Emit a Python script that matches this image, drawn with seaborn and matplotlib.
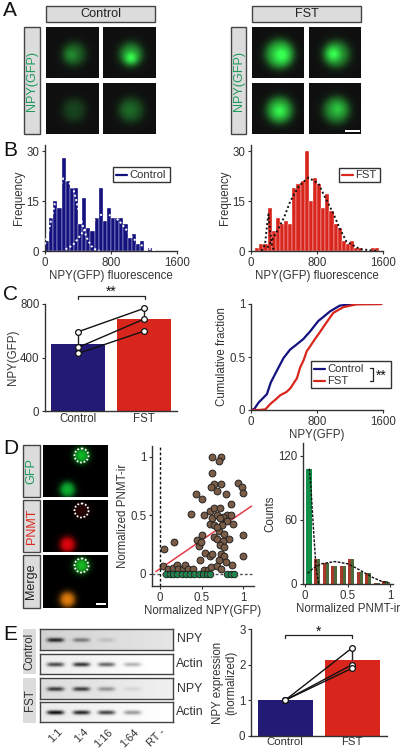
import numpy as np
import pandas as pd
import matplotlib
matplotlib.use('Agg')
import matplotlib.pyplot as plt
from matplotlib.patches import Rectangle, Circle
import seaborn as sns

sns.set_theme(style='ticks')
plt.rcParams['font.family'] = ['Liberation Sans', 'DejaVu Sans']
plt.rcParams['text.color'] = '#333333'
plt.rcParams['axes.labelcolor'] = '#333333'
plt.rcParams['xtick.labelcolor'] = '#333333'
plt.rcParams['ytick.labelcolor'] = '#333333'

NAVY = '#14127e'
BAR_BLUE = '#231a76'
RED = '#d9261c'
GREEN = '#12904a'
BROWN = '#7b5c47'
FS = 8.3

# panel B histograms, bin width 50
bin_edges = list(range(0, 1650, 50))
ctrl_freq = [3, 10, 15, 13, 28, 21, 19, 19, 8, 16, 7, 6, 10, 19, 9, 13, 10, 10, 10, 8,
             4, 5, 2, 3, 0, 1, 0, 0, 0, 0, 0, 0]
fst_freq = [0, 1, 2, 2, 13, 6, 10, 8, 9, 8, 19, 20, 21, 30, 15, 22, 20, 13, 17, 12,
            8, 7, 3, 2, 3, 1, 1, 0, 0, 1, 1, 0]
ctrl_fit1_x = [0, 60, 120, 170, 221, 270, 310, 350, 422, 470, 510, 560, 610, 660]
ctrl_fit1_y = [2, 7.8, 14.3, 18.5, 21.8, 21, 20, 18, 10.8, 6.5, 3.8, 1.5, 0.5, 0.1]
ctrl_fit2_x = [250, 340, 462, 550, 663, 750, 850, 925, 1065, 1165, 1250, 1350]
ctrl_fit2_y = [0.5, 1.8, 5.8, 8, 10.8, 11, 10.2, 8.3, 3.8, 1.8, 0.7, 0.1]
fst_fit1_x = [130, 170, 200, 212, 230, 260, 290]
fst_fit1_y = [0, 2, 9, 11, 6, 1, 0]
fst_fit2_x = [200, 313, 400, 474, 580, 695, 816, 900, 997, 1080, 1158, 1318, 1520]
fst_fit2_y = [1, 5.8, 10, 14.8, 19.5, 22, 20.3, 16, 11.3, 6.5, 2.8, 0.6, 0]

# panel C
groups = ['Control', 'FST']
npy_means = [500, 685]
npy_ctrl_cells = [592, 475, 430]
npy_fst_cells = [767, 687, 597]
cdf_ctrl_x = [0, 40, 92, 130, 193, 240, 293, 340, 394, 474, 540, 635, 680, 715, 816, 880, 957, 1077, 1238, 1580]
cdf_ctrl_y = [0, 0.01, 0.07, 0.1, 0.15, 0.26, 0.34, 0.41, 0.49, 0.57, 0.61, 0.67, 0.71, 0.74, 0.84, 0.88, 0.93, 0.985, 1, 1]
cdf_fst_x = [0, 100, 174, 234, 300, 356, 430, 477, 557, 595, 638, 676, 699, 776, 840, 897, 997, 1118, 1279, 1580]
cdf_fst_y = [0, 0, 0.006, 0.057, 0.1, 0.14, 0.17, 0.205, 0.3, 0.4, 0.47, 0.556, 0.58, 0.67, 0.74, 0.806, 0.916, 0.97, 0.997, 1]

# panel D scatter, cells positive for PNMT
pos_x = [.05, .04, .17, .10, .16, .21, .22, .28, .30, .34, .40, .37, .43, .50, .53, .44, .47, .51, .49, .48,
         .54, .60, .63, .53, .58, .61, .60, .65, .72, .60, .63, .68, .75, .81, .85, .65, .71, .77, .83, .69,
         .76, .72, .77, .73, .77, .71, .79, .69, .73, .87, .62, .73, .71, .62, .65, .73, .61, .68, .79, .85,
         .94, .98, 1.0, 1.0, 1.0, .76, .81, .88, .72, .65, .75, .68]
pos_y = [.21, .07, .27, .04, .05, .08, .04, .04, .08, .04, .04, .51, .68, .64, .50, .29, .24, .33, .27, .12,
         .18, .15, .17, .03, .03, .06, .54, .56, .56, .43, .48, .50, .48, .50, .50, .32, .37, .34, .30, .30,
         .28, .25, .23, .17, .15, .12, .10, .07, .04, .08, 1.0, 1.0, .97, .86, .77, .77, .74, .71, .68, .60,
         .78, .74, .69, .33, .15, .49, .45, .43, .48, .42, .42, .40]
neg_x = [.07, .12, .16, .21, .26, .31, .36, .41, .47, .52, .57, .6, .8, .85, .89]
neg_y = [0] * len(neg_x)
trend_x = [-0.05, 1.10]
trend_y = [0.02, 0.58]

# panel D counts
first_bin = [0.045]
first_count = [108]
count_bins = [.145, .245, .345, .445, .545, .645, .745, .845, .945]
pnmt_counts = [23, 20, 17, 17, 23, 11, 10, 1, 3]
drop_x = [.05, .07, .1, .13, .16]
drop_y = [108, 90, 50, 15, 0]
broad_x = [.03, .1, .2, .35, .5, .6, .7, .8, .9, 1.0]
broad_y = [10, 15, 19, 21, 19, 15, 10.5, 6, 2.5, .7]

# panel E
expr_means = [1, 2.12]
expr_ctrl_cells = [1, 1, 1]
expr_fst_cells = [2.47, 2.0, 1.9]
dilutions = ['1:1', '1:4', '1:16', '1:64', 'RT -']
gel_ctrl_npy = [.75, .4, .12, 0, 0]
gel_ctrl_actin = [.7, .8, .6, .3, 0]
gel_fst_npy = [.7, .7, .35, .08, 0]
gel_fst_actin = [.95, .85, .75, .4, 0]

# panels A and D cell pictures: radius, body level, spot level, spot dx, spot dy
cells_ctrl = [(11, .33, .18, -3, 1), (11, .5, .5, 0, 4), (11, .2, .02, 0, 0), (12, .28, .1, -2, 0)]
cells_fst = [(14, .6, .45, 2, 1), (13, .45, .55, -3, 0), (13, .55, .4, 0, 1), (13, .45, .3, 1, -1)]


def px_axes(fig, x0, y0, x1, y1):
    return fig.add_axes([x0 / 400, 1 - y1 / 748, (x1 - x0) / 400, (y1 - y0) / 748])


def style(ax):
    sns.despine(ax=ax)
    ax.tick_params(labelsize=FS, length=2.5, width=0.8, pad=1.5, color='#333333')
    for s in ax.spines.values():
        s.set_linewidth(1.0)
        s.set_color('#333333')


def blob(w, h, cx, cy, r, level, spot=0, dx=0, dy=0, soft=2.4):
    yy, xx = np.mgrid[0:h, 0:w]
    d = np.hypot(xx - cx, yy - cy)
    body = level / (1 + np.exp((d - r) / soft))
    body = body + spot * np.exp(-((xx - cx - dx) ** 2 + (yy - cy - dy) ** 2) / (2 * (r * .42) ** 2))
    return np.clip(body, 0, 1)


def cell_panel(fig, box, cell):
    ax = px_axes(fig, *box)
    w, h = box[2] - box[0], box[3] - box[1]
    g = blob(w, h, w / 2 + 1, h / 2 + 1, cell[0], cell[1], cell[2], cell[3], cell[4])
    img = np.dstack([g * .15 + .06, g * .95 + .06, g * .25 + .06])
    ax.imshow(np.clip(img, 0, 1), aspect='auto')
    ax.axis('off')
    return ax


def hist_panel(fig, box, freq, color):
    ax = px_axes(fig, *box)
    centers = [e + 25 for e in bin_edges[:-1]]
    sns.histplot(x=centers, weights=freq, bins=bin_edges, color=color, edgecolor='white',
                 linewidth=0.25, alpha=1, ax=ax)
    ax.set(xlim=(0, 1600), ylim=(0, 31.8), xticks=[0, 800, 1600], yticks=[0, 15, 30])
    ax.set_xlabel('NPY(GFP) fluorescence', fontsize=FS, labelpad=1)
    ax.set_ylabel('Frequency', fontsize=FS, labelpad=1)
    style(ax)
    return ax


def paired_bars(fig, box, means, left, right, ylim, yticks, ylabel, xlim, errs):
    ax = px_axes(fig, *box)
    sns.barplot(x=groups, y=means, hue=groups, palette=[BAR_BLUE, RED], width=.82, saturation=1,
                legend=False, errorbar=None, linewidth=0, ax=ax)
    ax.vlines([0, 1], means, errs, color='#222222', lw=1, zorder=3)
    for a, b in zip(left, right):
        sns.lineplot(x=[0, 1], y=[a, b], color='#111111', lw=1, ax=ax, legend=False, zorder=4)
    sns.scatterplot(x=[0] * len(left) + [1] * len(right), y=left + right, color='white',
                    edgecolor='#111111', linewidth=.9, s=17, ax=ax, zorder=5, legend=False, clip_on=False)
    ax.set(xlim=xlim, ylim=ylim, yticks=yticks)
    ax.set_ylabel(ylabel, fontsize=FS, labelpad=1)
    ax.set_xlabel('')
    style(ax)
    ax.tick_params(axis='x', length=0, pad=1.5)
    return ax


fig = plt.figure(figsize=(4, 7.48), dpi=100)
page = fig.add_axes([0, 0, 1, 1])
page.set(xlim=(0, 400), ylim=(748, 0))
page.axis('off')


def letter(x, y, s):
    page.text(x, y, s, fontsize=15, color='#111111', va='center', ha='left')


def label_box(x0, y0, x1, y1, text, color='#222222', rot=0, edge='#444444'):
    page.add_patch(Rectangle((x0, y0), x1 - x0, y1 - y0, fc='#dcdcdc', ec=edge, lw=1))
    page.text((x0 + x1) / 2, (y0 + y1) / 2, text, fontsize=FS + .8, color=color, rotation=rot,
              ha='center', va='center')


# A
letter(3, 10, 'A')
label_box(46, 6, 155, 22, 'Control')
label_box(252, 6, 361, 22, 'FST')
label_box(24, 27, 40, 134, 'NPY(GFP)', color='#1f9a5c', rot=90)
label_box(231, 27, 246, 134, 'NPY(GFP)', color='#1f9a5c', rot=90)
a_rows = [(27, 78), (83, 134)]
for col_x, cells in [((46, 99, 103, 156), cells_ctrl), ((252, 304, 309, 361), cells_fst)]:
    cell_panel(fig, (col_x[0], a_rows[0][0], col_x[1], a_rows[0][1]), cells[0])
    cell_panel(fig, (col_x[2], a_rows[0][0], col_x[3], a_rows[0][1]), cells[1])
    cell_panel(fig, (col_x[0], a_rows[1][0], col_x[1], a_rows[1][1]), cells[2])
    last = cell_panel(fig, (col_x[2], a_rows[1][0], col_x[3], a_rows[1][1]), cells[3])
last.add_patch(Rectangle((35, 46), 15, 2, fc='white', ec='none'))

# B
letter(3, 150, 'B')
ax = hist_panel(fig, (45, 145, 177, 251), ctrl_freq, NAVY)
for xs, ys in [(ctrl_fit1_x, ctrl_fit1_y), (ctrl_fit2_x, ctrl_fit2_y)]:
    sns.lineplot(x=xs, y=ys, color='white', lw=1.4, ls=(0, (1, 1.3)), ax=ax, legend=False, zorder=4)
ax = hist_panel(fig, (251, 145, 383, 251), fst_freq, RED)
for xs, ys in [(fst_fit1_x, fst_fit1_y), (fst_fit2_x, fst_fit2_y)]:
    sns.lineplot(x=xs, y=ys, color='#111111', lw=1.4, ls=(0, (1, 1.3)), ax=ax, legend=False, zorder=4)

# C
letter(3, 294, 'C')
ax = paired_bars(fig, (45, 304, 177, 411), npy_means, npy_ctrl_cells, npy_fst_cells, (0, 800),
                 [0, 400, 800], 'NPY(GFP)', (-.5, 1.5), [600, 770])

ax = px_axes(fig, 251, 304, 383, 410)
sns.lineplot(x=cdf_ctrl_x, y=cdf_ctrl_y, color=NAVY, lw=1.6, ax=ax, legend=False)
sns.lineplot(x=cdf_fst_x, y=cdf_fst_y, color=RED, lw=1.6, ax=ax, legend=False)
ax.set(xlim=(0, 1600), ylim=(0, 1), xticks=[0, 800, 1600], yticks=[0, .5, 1], yticklabels=['0', '0.5', '1'])
ax.set_xlabel('NPY(GFP)', fontsize=FS, labelpad=1)
ax.set_ylabel('Cumulative fraction', fontsize=FS, labelpad=1)
style(ax)

# D
letter(3, 448, 'D')
label_box(23, 445, 40, 497, 'GFP', color='#1f9a5c', rot=90)
label_box(23, 500, 40, 552, 'PNMT', color='#d9261c', rot=90)
label_box(23, 555, 40, 608, 'Merge', color='#222222', rot=90)

d_top = (43, 445, 108, 497)
d_mid = (43, 500, 108, 552)
d_low = (43, 555, 108, 608)


def d_panel(box, rgb_a, rgb_b, ring=True, bar=False):
    ax = px_axes(fig, *box)
    w, h = box[2] - box[0], box[3] - box[1]
    a = blob(w, h, 38, 10, 7, 1, soft=1.8)
    b = blob(w, h, 24, 44, 7, 1, soft=1.8)
    img = np.zeros((h, w, 3))
    for i in range(3):
        img[:, :, i] = a * rgb_a[i] + b * rgb_b[i]
    ax.imshow(np.clip(img, 0, 1), aspect='auto')
    ax.axis('off')
    if ring:
        ax.add_patch(Circle((38, 10), 7, fc='none', ec='white', lw=1.3, ls=(0, (1, 1))))
    if bar:
        ax.add_patch(Rectangle((52, 47), 10, 2, fc='white', ec='none'))


d_panel(d_top, (.05, .75, .15), (.05, .7, .2))
d_panel(d_mid, (.18, .02, .02), (.9, .02, .05))
d_panel(d_low, (.1, .75, .15), (.9, .5, .05), bar=True)

ax = px_axes(fig, 152, 446, 254, 586)
sns.lineplot(x=trend_x, y=trend_y, color='#e63b46', lw=1.1, ax=ax, legend=False, zorder=2)
sns.scatterplot(x=pos_x, y=pos_y, color=BROWN, edgecolor='#222222', linewidth=.7, s=24, ax=ax, legend=False, zorder=3)
sns.scatterplot(x=neg_x, y=neg_y, color=GREEN, edgecolor='#222222', linewidth=.7, s=22, ax=ax, legend=False, zorder=4)
ax.axvline(0, color='#111111', lw=1, ls=(0, (2, 1.5)), zorder=5)
ax.axhline(0, color='#555555', lw=1, ls=(0, (2, 1.5)), zorder=5)
ax.set(xlim=(-.096, 1.13), ylim=(-.103, 1.094), xticks=[0, .5, 1], yticks=[0, .5, 1],
       xticklabels=['0', '0.5', '1'], yticklabels=['0', '0.5', '1'])
ax.set_xlabel('Normalized NPY(GFP)', fontsize=FS, labelpad=1)
ax.set_ylabel('Normalized PNMT-ir', fontsize=FS, labelpad=1)
style(ax)

ax = px_axes(fig, 303, 443, 393, 584)
sns.barplot(x=first_bin, y=first_count, color=GREEN, saturation=1, width=.07, native_scale=True,
            errorbar=None, linewidth=0, ax=ax)
counts_long = pd.DataFrame({'bin': count_bins * 2, 'n': pnmt_counts * 2,
                            'kind': ['red'] * 9 + ['green'] * 9})
sns.barplot(data=counts_long, x='bin', y='n', hue='kind', palette={'red': '#a8382a', 'green': '#4c6b3c'},
            saturation=1, width=.7, gap=0, native_scale=True, errorbar=None, legend=False, linewidth=0, ax=ax)
sns.lineplot(x=drop_x, y=drop_y, color='#111111', lw=1, ls=(0, (2, 1)), ax=ax, legend=False, zorder=4)
sns.lineplot(x=broad_x, y=broad_y, color='#111111', lw=1, ls=(0, (2, 1)), ax=ax, legend=False, zorder=4)
ax.set(xlim=(-.024, 1.035), ylim=(0, 132), xticks=[0, .5, 1], yticks=[0, 60, 120], xticklabels=['0', '0.5', '1'])
ax.set_xlabel('Normalized PNMT-ir', fontsize=FS, labelpad=1)
ax.set_ylabel('Counts', fontsize=FS, labelpad=1)
style(ax)

# E
letter(3, 634, 'E')
page.add_patch(Rectangle((23, 629), 13, 45, fc='#dcdcdc', ec='none'))
page.add_patch(Rectangle((23, 678), 13, 45, fc='#dcdcdc', ec='none'))
page.text(29.5, 651.5, 'Control', rotation=90, fontsize=FS, ha='center', va='center')
page.text(29.5, 700.5, 'FST', rotation=90, fontsize=FS, ha='center', va='center')
gel_rows = [(629, 650, gel_ctrl_npy, 'NPY', .82), (654, 674, gel_ctrl_actin, 'Actin', .93),
            (678, 699, gel_fst_npy, 'NPY', .86), (702, 722, gel_fst_actin, 'Actin', .92)]
lane_px = [15, 41, 66, 92, 118]
for y0, y1, levels, name, bg in gel_rows:
    ax = px_axes(fig, 40, y0, 173, y1)
    w, h = 133, y1 - y0
    yy, xx = np.mgrid[0:h, 0:w]
    img = bg + (xx / w) * .08
    for lane, lev in zip(lane_px, levels):
        img = img - lev * .9 * np.exp(-((xx - lane) / 8.5) ** 4) * np.exp(-((yy - h / 2) / 2.2) ** 2)
    ax.imshow(img, cmap='gray', vmin=0, vmax=1, aspect='auto')
    ax.set(xticks=[], yticks=[])
    for s in ax.spines.values():
        s.set_linewidth(1)
        s.set_color('#444444')
    page.text(190, (y0 + y1) / 2, name, fontsize=FS + .6, ha='center', va='center')
for lane, lab in zip(lane_px, dilutions):
    page.text(40 + lane + 2, 727, lab, rotation=45, fontsize=FS - .4, ha='right', va='top', rotation_mode='anchor')

ax = paired_bars(fig, (251, 629, 387, 736), expr_means, expr_ctrl_cells, expr_fst_cells, (0, 3),
                 [0, 1, 2, 3], 'NPY expression\n(normalized)', (-.507, 1.52), [1, 2.45])
ax.tick_params(axis='x', pad=0.5, labelsize=FS - .1)

# annotations on top
over = fig.add_axes([0, 0, 1, 1], zorder=20)
over.set(xlim=(0, 400), ylim=(748, 0))
over.axis('off')


def bracket(x0, x1, y, stars, sy):
    over.plot([x0, x0, x1, x1], [y + 3, y, y, y + 3], color='#222222', lw=.9)
    over.text((x0 + x1) / 2, sy, stars, fontsize=10, ha='center', va='center', color='#111111')


bracket(78, 145, 296, '**', 292)
bracket(285, 352, 635, '*', 632)


def legend_box(x0, y0, x1, y1, rows):
    over.add_patch(Rectangle((x0, y0), x1 - x0, y1 - y0, fc='white', ec='#333333', lw=1))
    for text, color, ly in rows:
        over.plot([x0 + 3, x0 + 14], [ly, ly], color=color, lw=1.6)
        over.text(x0 + 16, ly, text, fontsize=8.1, va='center', ha='left')


legend_box(113, 167, 170, 182, [('Control', NAVY, 174.5)])
legend_box(339, 168, 380, 182, [('FST', RED, 175)])
legend_box(311, 361, 391, 388, [('Control', NAVY, 368.5), ('FST', RED, 381)])
over.plot([370, 372.5, 372.5, 370], [368, 368, 381, 381], color='#222222', lw=.9)
over.text(381, 376, '**', fontsize=10, ha='center', va='center', color='#111111')

fig.savefig('out.png', dpi=100)
